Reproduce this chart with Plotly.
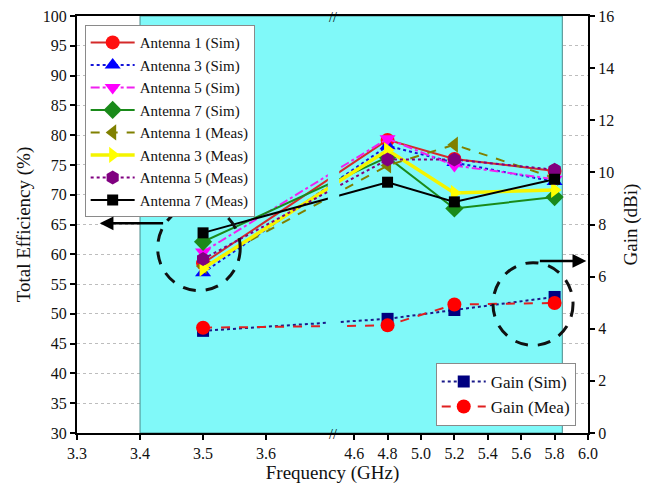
import plotly.graph_objects as go

# ---------------- data ----------------
freq = [3.5, 4.8, 5.2, 5.8]

ant1_sim = [58.5, 79.2, 76.0, 74.0]
ant3_sim = [56.9, 78.2, 75.4, 72.2]
ant5_sim = [60.4, 79.4, 74.9, 72.6]
ant7_sim = [62.1, 76.3, 67.7, 69.6]
ant1_meas = [58.0, 74.9, 78.4, 72.8]
ant3_meas = [57.6, 77.5, 70.3, 70.8]
ant5_meas = [59.2, 75.9, 75.9, 74.2]
ant7_meas = [63.6, 72.1, 68.8, 72.6]

gain_sim = [3.92, 4.38, 4.72, 5.22]
gain_meas = [4.04, 4.13, 4.93, 4.99]

x_ticks = [3.3, 3.4, 3.5, 3.6, 4.6, 4.8, 5.0, 5.2, 5.4, 5.6, 5.8, 6.0]
x_tick_labels = ["3.3", "3.4", "3.5", "3.6", "4.6", "4.8", "5.0", "5.2", "5.4", "5.6", "5.8", "6.0"]
eff_ticks = list(range(30, 101, 5))
gain_ticks = list(range(0, 17, 2))

# ---------------- broken x axis mapping ----------------
X_START, BREAK_L, BREAK_R, SCALE_R = 3.3, 3.7, 4.45, 0.265


def u(f):
    if f <= BREAK_L:
        return f - X_START
    return (BREAK_L - X_START) + (f - BREAK_R) * SCALE_R


fu = [u(f) for f in freq]
X_MAX = u(6.0)
U_BREAK = BREAK_L - X_START

FONT = "Liberation Serif"

series = [
    ("Antenna 1 (Sim)", ant1_sim, "#D42A2A", "#FF1010", "solid", "circle", 2, 14),
    ("Antenna 3 (Sim)", ant3_sim, "#1414D8", "#0000FF", "dot", "triangle-up", 2, 14),
    ("Antenna 5 (Sim)", ant5_sim, "#F020F0", "#FF00FF", "dashdot", "triangle-down", 2, 14),
    ("Antenna 7 (Sim)", ant7_sim, "#1A8A1A", "#1A8A1A", "solid", "diamond", 2, 14),
    ("Antenna 1 (Meas)", ant1_meas, "#808000", "#808000", "dash", "triangle-left", 2, 14),
    ("Antenna 3 (Meas)", ant3_meas, "#F4F400", "#FFFF00", "solid", "triangle-right", 3.5, 14),
    ("Antenna 5 (Meas)", ant5_meas, "#800080", "#800080", "dot", "hexagon", 2, 14),
    ("Antenna 7 (Meas)", ant7_meas, "#000000", "#000000", "solid", "square", 2, 11),
]

fig = go.Figure()

for name, vals, lc, mc, dash, sym, lw, ms in series:
    fig.add_trace(go.Scatter(
        x=fu, y=vals, name=name, mode="lines+markers",
        line=dict(color=lc, width=lw, dash=dash),
        marker=dict(symbol=sym, size=ms, color=mc, line=dict(width=0)),
        legend="legend", yaxis="y",
    ))

fig.add_trace(go.Scatter(
    x=fu, y=gain_sim, name="Gain (Sim)", mode="lines+markers",
    line=dict(color="#1A1A8A", width=2, dash="dot"),
    marker=dict(symbol="square", size=12, color="#000080"),
    legend="legend2", yaxis="y2",
))
fig.add_trace(go.Scatter(
    x=fu, y=gain_meas, name="Gain (Mea)", mode="lines+markers",
    line=dict(color="#E02020", width=2, dash="dash"),
    marker=dict(symbol="circle", size=14, color="#FF0000"),
    legend="legend2", yaxis="y2",
))

shapes = [
    # cyan band
    dict(type="rect", xref="x", yref="y", x0=u(3.4), x1=0.770, y0=30, y1=100,
         fillcolor="#80F9F9", line=dict(color="#4A8A8A", width=1), layer="between"),
    # gap in lines at the axis break
    dict(type="rect", xref="x", yref="y", x0=U_BREAK - 0.002, x1=U_BREAK + 0.016, y0=30.4, y1=99.6,
         fillcolor="#80F9F9", line=dict(width=0), layer="above"),
    # dashed circles
    dict(type="circle", xref="x", yref="y", x0=0.128, x1=0.259, y0=53.9, y1=68.2,
         line=dict(color="#111111", width=3, dash="13px,10px"), layer="above"),
    dict(type="circle", xref="x", yref="y", x0=0.660, x1=0.787, y0=44.7, y1=58.6,
         line=dict(color="#111111", width=3, dash="13px,10px"), layer="above"),
]

annotations = [
    dict(x=0.036, y=65.2, xref="x", yref="y", ax=0.139, ay=65.2, axref="x", ayref="y",
         showarrow=True, arrowhead=2, arrowsize=1.1, arrowwidth=2.5, arrowcolor="#000000", text=""),
    dict(x=0.808, y=6.6, xref="x", yref="y2", ax=0.732, ay=6.6, axref="x", ayref="y2",
         showarrow=True, arrowhead=2, arrowsize=1.1, arrowwidth=2.5, arrowcolor="#000000", text=""),
    dict(x=U_BREAK + 0.006, y=100, xref="x", yref="y", text="//", showarrow=False,
         font=dict(family=FONT, size=14, color="#000000"), yshift=-1),
    dict(x=U_BREAK + 0.006, y=30, xref="x", yref="y", text="//", showarrow=False,
         font=dict(family=FONT, size=14, color="#000000"), yshift=-1),
]

fig.update_layout(
    # page body has an 8px default margin; the figure is sized so the plot lands where the reference has it
    width=646, height=484,
    margin=dict(l=69, r=66, t=8, b=59, autoexpand=False),
    paper_bgcolor="white", plot_bgcolor="white",
    font=dict(family=FONT, size=16, color="#111111"),
    shapes=shapes, annotations=annotations,
    xaxis=dict(
        range=[0, X_MAX], tickvals=[u(t) for t in x_ticks], ticktext=x_tick_labels,
        showgrid=False, zeroline=False, showline=True, linecolor="#000000", linewidth=2,
        mirror=True, ticks="outside", ticklen=5, tickwidth=1.5, tickcolor="#000000",
        tickfont=dict(family=FONT, size=16), automargin=False, ticklabeloverflow="allow",
        title=dict(text="Frequency (GHz)", font=dict(family=FONT, size=19), standoff=1),
    ),
    yaxis=dict(
        range=[30, 100], tickvals=eff_ticks, showgrid=True, gridcolor="#BDBDBD",
        griddash="dot", gridwidth=1, zeroline=False, showline=True, linecolor="#000000",
        linewidth=2, ticks="outside", ticklen=5, tickwidth=1.5, tickcolor="#000000",
        tickfont=dict(family=FONT, size=16), automargin=False, ticklabeloverflow="allow",
        title=dict(text="Total Efficiency (%)", font=dict(family=FONT, size=19), standoff=7),
    ),
    yaxis2=dict(
        range=[0, 16], tickvals=gain_ticks, overlaying="y", side="right",
        showgrid=False, zeroline=False, showline=True, linecolor="#000000", linewidth=2,
        ticks="outside", ticklen=5, tickwidth=1.5, tickcolor="#000000",
        tickfont=dict(family=FONT, size=16), automargin=False, ticklabeloverflow="allow",
        title=dict(text="Gain (dBi)", font=dict(family=FONT, size=19), standoff=10),
    ),
    legend=dict(
        x=0.015, y=0.978, xanchor="left", yanchor="top",
        bgcolor="white", bordercolor="#8A8A8A", borderwidth=1, itemwidth=44,
        font=dict(family=FONT, size=15, color="#111111"), tracegroupgap=0,
    ),
    legend2=dict(
        x=0.976, y=0.017, xanchor="right", yanchor="bottom",
        bgcolor="white", bordercolor="#8A8A8A", borderwidth=1, itemwidth=44,
        font=dict(family=FONT, size=17, color="#111111"),
    ),
)

fig.write_html("out.html")
